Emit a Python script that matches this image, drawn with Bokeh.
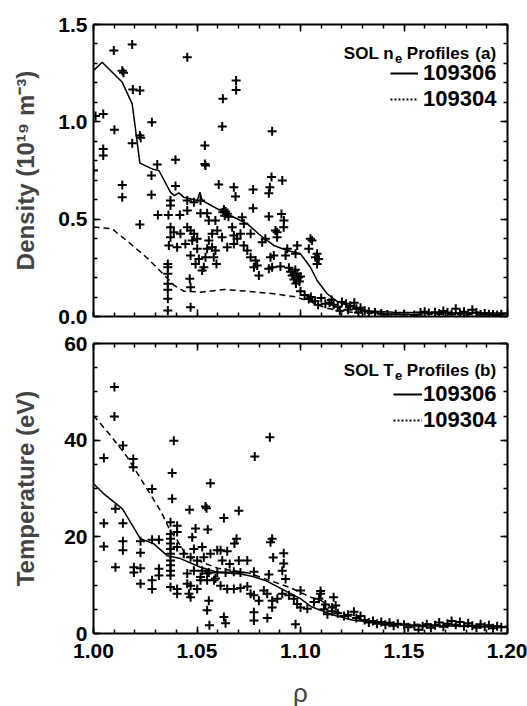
import numpy as np
from bokeh.plotting import figure
from bokeh.models import (FixedTicker, LinearAxis, Range1d, Legend, LegendItem,
                          Label, PrintfTickFormatter)
from bokeh.layouts import column
from bokeh.embed import file_html
from bokeh.resources import INLINE

FONT = "Liberation Sans, Arial, sans-serif"

# ---------------- data: panel (a) density ----------------
ne306_rho = [1.000, 1.0042, 1.0139, 1.0187, 1.0224, 1.0283, 1.0316, 1.0372, 1.0391, 1.0412,
             1.0436, 1.0501, 1.0514, 1.0525, 1.0614, 1.0678, 1.0743, 1.0807, 1.0871, 1.0936,
             1.100, 1.1048, 1.108, 1.1129, 1.118, 1.125, 1.132, 1.145, 1.160, 1.180, 1.200]
ne306_val = [1.263, 1.306, 1.203, 1.092, 0.788, 0.758, 0.750, 0.638, 0.621, 0.635,
             0.613, 0.596, 0.638, 0.596, 0.544, 0.510, 0.476, 0.416, 0.365, 0.339,
             0.322, 0.253, 0.185, 0.117, 0.075, 0.050, 0.030, 0.022, 0.020, 0.018, 0.018]

ne304_rho = [1.000, 1.009, 1.016, 1.026, 1.032, 1.039, 1.0436, 1.052, 1.063, 1.074,
             1.087, 1.098, 1.105, 1.112, 1.120, 1.140, 1.200]
ne304_val = [0.46, 0.45, 0.39, 0.30, 0.236, 0.16, 0.13, 0.125, 0.139, 0.13,
             0.117, 0.10, 0.075, 0.045, 0.025, 0.012, 0.010]

ne_rho = [
    1.0098, 1.0187, 1.0453, 1.0139, 1.0145, 1.0190, 1.0224, 1.0689, 1.0689, 1.0625,
    1.0010, 1.0047, 1.0101, 1.0282, 1.0224, 1.0228, 1.0187, 1.0047, 1.0047, 1.0538,
    1.0538, 1.0541, 1.0396, 1.0308, 1.0280, 1.0000, 1.0139, 1.0139, 1.0280, 1.0396,
    1.0605, 1.0622, 1.0863, 1.0860, 1.0912, 1.0678, 1.0686, 1.0771, 1.0852, 1.0847,
    1.0771, 1.0847, 1.0908, 1.0224,
    1.0311, 1.0362, 1.0417, 1.0372, 1.0372, 1.0453, 1.0485, 1.0517, 1.0453, 1.0517,
    1.0549, 1.0557, 1.0589, 1.0372, 1.0388, 1.0372, 1.0420, 1.0453, 1.0469, 1.0485,
    1.0501, 1.0364, 1.0404, 1.0444, 1.0477, 1.0501, 1.0469, 1.0509, 1.0493, 1.0541,
    1.0533, 1.0573, 1.0557, 1.0573, 1.0598, 1.0549, 1.0589, 1.0359, 1.0359, 1.0359,
    1.0359, 1.0359, 1.0359, 1.0359, 1.0469, 1.0469, 1.0465,
    1.0630, 1.0638, 1.0646, 1.0634, 1.0652, 1.0625, 1.0670, 1.0718, 1.0726, 1.0678,
    1.0621, 1.0646, 1.0694, 1.0710, 1.0759, 1.0743, 1.0581, 1.0594, 1.0525, 1.0678,
    1.0726, 1.0759, 1.0783, 1.0791, 1.0775, 1.0799, 1.0855, 1.0871, 1.0863, 1.0847,
    1.0903, 1.0887, 1.0887, 1.0919, 1.0879, 1.0830, 1.0815, 1.0920, 1.0936, 1.0928,
    1.0984, 1.0976, 1.1048, 1.1056, 1.1040, 1.1080, 1.1072, 1.1088, 1.1080, 1.0944,
    1.0952, 1.0960, 1.0968, 1.0975, 1.0985, 1.0990, 1.0995, 1.0978, 1.1000,
    1.1000, 1.1020, 1.1040, 1.1070, 1.1100, 1.1120, 1.1140, 1.1160, 1.1180, 1.1200,
    1.1220, 1.1240, 1.1260, 1.1270, 1.1290, 1.1310, 1.1330, 1.1360, 1.1390, 1.1420,
    1.1460, 1.1500, 1.1550, 1.1580, 1.1600, 1.1620, 1.1650, 1.1670, 1.1690, 1.1710,
    1.1730, 1.1750, 1.1770, 1.1790, 1.1810, 1.1830, 1.1850, 1.1870, 1.1890, 1.1910,
    1.1930, 1.1950, 1.1970, 1.1050, 1.1085, 1.1150, 1.1190, 1.1230, 1.1280,
]
ne_val = [
    1.366, 1.397, 1.332, 1.263, 1.252, 1.166, 1.161, 1.212, 1.164, 1.118,
    1.030, 1.040, 0.959, 0.998, 0.930, 0.918, 0.890, 0.861, 0.827, 0.878,
    0.784, 0.776, 0.805, 0.781, 0.724, 0.750, 0.676, 0.613, 0.625, 0.670,
    0.678, 0.976, 0.952, 0.716, 0.698, 0.664, 0.616, 0.652, 0.664, 0.633,
    0.556, 0.514, 0.527, 0.473,
    0.522, 0.522, 0.522, 0.596, 0.570, 0.596, 0.587, 0.596, 0.544, 0.530,
    0.530, 0.493, 0.493, 0.459, 0.433, 0.407, 0.425, 0.459, 0.442, 0.425,
    0.399, 0.365, 0.356, 0.373, 0.390, 0.348, 0.313, 0.296, 0.270, 0.305,
    0.253, 0.356, 0.390, 0.425, 0.442, 0.348, 0.339, 0.270, 0.253, 0.219,
    0.168, 0.137, 0.091, 0.031, 0.150, 0.048, 0.194,
    0.550, 0.540, 0.528, 0.518, 0.512, 0.535, 0.459, 0.510, 0.476, 0.416,
    0.407, 0.356, 0.399, 0.425, 0.425, 0.339, 0.305, 0.270, 0.236, 0.373,
    0.365, 0.305, 0.288, 0.262, 0.253, 0.210, 0.305, 0.313, 0.253, 0.245,
    0.257, 0.433, 0.407, 0.459, 0.442, 0.399, 0.382, 0.493, 0.348, 0.313,
    0.365, 0.322, 0.399, 0.390, 0.348, 0.322, 0.305, 0.296, 0.270, 0.250,
    0.230, 0.210, 0.190, 0.240, 0.220, 0.200, 0.180, 0.170, 0.205,
    0.130, 0.110, 0.090, 0.080, 0.095, 0.065, 0.070, 0.060, 0.050, 0.075,
    0.065, 0.055, 0.070, 0.040, 0.045, 0.030, 0.025, 0.020, 0.015, 0.010,
    0.012, 0.010, 0.008, 0.020, 0.025, 0.018, 0.022, 0.015, 0.028, 0.020,
    0.012, 0.040, 0.018, 0.025, 0.015, 0.035, 0.020, 0.010, 0.015, 0.012,
    0.010, 0.008, 0.012, 0.100, 0.060, 0.085, 0.030, 0.035, 0.020,
]

# ---------------- data: panel (b) temperature ----------------
te306_rho = [1.000, 1.005, 1.014, 1.0227, 1.029, 1.0356, 1.042, 1.0517, 1.0598, 1.067,
             1.071, 1.077, 1.084, 1.0936, 1.100, 1.105, 1.1145, 1.125, 1.140, 1.160,
             1.180, 1.200]
te306_val = [31.0, 28.9, 25.8, 19.6, 18.6, 16.1, 15.5, 13.7, 12.7, 12.4,
             12.3, 11.8, 10.8, 8.6, 7.2, 5.6, 4.0, 2.8, 2.0, 1.6,
             1.5, 1.4]

te304_rho = [1.000, 1.0082, 1.0163, 1.0243, 1.0324, 1.037, 1.040, 1.045, 1.060, 1.075,
             1.085, 1.095, 1.105, 1.110, 1.119, 1.130, 1.145, 1.200]
te304_val = [45.1, 41.0, 36.5, 31.0, 25.4, 21.3, 19.6, 16.0, 13.5, 12.5,
             11.0, 9.5, 7.5, 6.8, 4.3, 2.8, 2.0, 1.5]

te_rho = [
    1.0101, 1.0101, 1.0388, 1.0852, 1.0779, 1.0142, 1.0050, 1.0192, 1.0192, 1.0565,
    1.0380, 1.0283, 1.0380, 1.0541, 1.0546, 1.0464, 1.0552, 1.0106, 1.0050, 1.0142,
    1.0050, 1.0142, 1.0142, 1.0227, 1.0227, 1.0283, 1.0316, 1.0106, 1.0195, 1.0195,
    1.0227, 1.0227, 1.0283, 1.0283, 1.0316, 1.0316, 1.0630, 1.0702, 1.0691, 1.0681,
    1.0863, 1.0855,
    1.0372, 1.0372, 1.0372, 1.0372, 1.0372, 1.0372, 1.0372, 1.0372, 1.0372, 1.0372,
    1.0404, 1.0404, 1.0404, 1.0372, 1.0404, 1.0404, 1.0453, 1.0485, 1.0517, 1.0436,
    1.0469, 1.0501, 1.0533, 1.0485, 1.0525, 1.0565, 1.0549, 1.0469, 1.0501, 1.0453,
    1.0589, 1.0598, 1.0493, 1.0477, 1.0461, 1.0469, 1.0549, 1.0557, 1.0560,
    1.0614, 1.0646, 1.0622, 1.0658, 1.0702, 1.0743, 1.0919, 1.0919, 1.0912, 1.0928,
    1.0868, 1.0525, 1.0557, 1.0598, 1.0638, 1.0678, 1.0710, 1.0775, 1.0847, 1.0517,
    1.0549, 1.0582, 1.0614, 1.0646, 1.0678, 1.0710, 1.0743, 1.0759, 1.0775, 1.0799,
    1.0823, 1.0839, 1.0863, 1.0863, 1.0888, 1.0912, 1.0944, 1.0968, 1.0984, 1.1000,
    1.1033, 1.1065, 1.1089, 1.1097, 1.1000, 1.1160, 1.0630, 1.0638, 1.0775, 1.0775,
    1.0840, 1.0976,
    1.1097, 1.1153, 1.1153, 1.1258, 1.1113, 1.1130, 1.1180, 1.1210, 1.1230, 1.1270,
    1.1290, 1.1120, 1.1170, 1.1310, 1.1330, 1.1350, 1.1370, 1.1390, 1.1410, 1.1430,
    1.1450, 1.1470, 1.1500, 1.1520, 1.1550, 1.1570, 1.1590, 1.1610, 1.1630, 1.1650,
    1.1670, 1.1690, 1.1710, 1.1730, 1.1750, 1.1770, 1.1790, 1.1810, 1.1830, 1.1850,
    1.1870, 1.1890, 1.1910, 1.1930, 1.1950, 1.1970,
]
te_val = [
    51.0, 44.9, 39.9, 40.6, 36.6, 38.9, 36.3, 36.1, 34.4, 31.1,
    33.2, 29.9, 27.9, 26.3, 25.9, 25.6, 21.5, 25.8, 22.8, 22.8,
    18.0, 19.1, 17.2, 19.1, 16.7, 19.4, 19.4, 13.7, 13.7, 12.6,
    13.5, 10.3, 11.0, 9.2, 13.4, 12.0, 23.9, 25.4, 19.6, 18.6,
    19.6, 18.9,
    23.0, 20.6, 19.6, 18.6, 17.5, 16.5, 15.1, 14.1, 13.0, 12.0,
    22.3, 21.0, 17.9, 9.6, 9.2, 8.2, 12.4, 13.0, 11.0, 16.5,
    15.8, 15.1, 15.8, 17.5, 17.9, 16.5, 12.4, 9.9, 9.2, 10.3,
    11.4, 17.2, 21.7, 19.9, 8.2, 7.5, 4.8, 6.8, 1.7,
    17.2, 17.0, 15.1, 14.4, 15.1, 15.1, 16.6, 14.5, 13.0, 11.3,
    15.7, 13.0, 12.6, 12.6, 12.6, 12.8, 12.6, 12.8, 12.2, 11.7,
    11.0, 11.0, 9.9, 9.2, 9.2, 9.4, 9.7, 8.2, 7.9, 6.8,
    8.9, 8.2, 6.8, 5.4, 7.2, 8.2, 7.9, 7.2, 6.1, 5.4,
    5.1, 6.5, 7.2, 8.2, 8.9, 7.5, 3.4, 2.1, 4.4, 2.7,
    3.2, 1.9,
    8.8, 5.4, 4.6, 4.5, 5.0, 4.0, 4.2, 3.6, 3.9, 3.2,
    3.6, 6.0, 5.8, 2.8, 2.3, 2.6, 2.0, 2.4, 1.8, 2.2,
    1.6, 2.0, 1.8, 1.3, 1.6, 0.8, 1.5, 1.9, 1.2, 1.7,
    2.3, 1.4, 2.0, 2.6, 1.8, 2.4, 1.5, 2.1, 1.6, 1.2,
    1.9, 1.4, 1.7, 1.1, 1.5, 1.3,
]

# ---------------- ticks ----------------
x_major = [1.00, 1.05, 1.10, 1.15, 1.20]
x_minor = [round(1.0 + 0.01 * i, 2) for i in range(21)]
ne_major = [0.0, 0.5, 1.0, 1.5]
ne_minor = [round(0.1 * i, 1) for i in range(16)]
te_major = [0, 20, 40, 60]
te_minor = [5 * i for i in range(13)]

shots = ["109306", "109304"]


def make_panel(yr, ymaj, ymin, yfmt, ylabel, fh, top_b, bot_b, show_x, ylab_standoff):
    p = figure(x_range=Range1d(1.0, 1.2), y_range=Range1d(*yr),
               frame_width=414, frame_height=fh,
               min_border_left=93, min_border_right=20,
               min_border_top=top_b, min_border_bottom=bot_b,
               output_backend="svg", toolbar_location=None)
    p.grid.visible = False
    p.outline_line_color = None
    p.background_fill_color = "white"
    p.border_fill_color = "white"
    top = LinearAxis()
    right = LinearAxis()
    p.add_layout(top, "above")
    p.add_layout(right, "right")
    xt = FixedTicker(ticks=x_major, minor_ticks=x_minor)
    yt = FixedTicker(ticks=ymaj, minor_ticks=ymin)
    bottom = p.below[0]
    left = p.left[0]
    bottom.ticker = xt
    top.ticker = xt
    left.ticker = yt
    right.ticker = yt
    for ax in (bottom, top, left, right):
        ax.axis_line_width = 2
        ax.axis_line_color = "black"
        ax.major_tick_in = 7
        ax.major_tick_out = 0
        ax.minor_tick_in = 4
        ax.minor_tick_out = 0
        ax.major_tick_line_width = 1.5
        ax.minor_tick_line_width = 1.5
        ax.major_label_text_font = FONT
        ax.major_label_text_font_style = "bold"
        ax.major_label_text_font_size = "21px"
        ax.major_label_text_color = "black"
    hidden = [top, right] + ([] if show_x else [bottom])
    for ax in hidden:
        ax.major_label_text_font_size = "1px"
        ax.major_label_text_color = None
        ax.major_label_standoff = 0
    bottom.formatter = PrintfTickFormatter(format="%.2f")
    left.formatter = PrintfTickFormatter(format=yfmt)
    left.major_label_standoff = 6
    if show_x:
        bottom.major_label_standoff = 10
        bottom.axis_label = "\u03c1"
        bottom.axis_label_text_font = FONT
        bottom.axis_label_text_font_style = "normal"
        bottom.axis_label_text_font_size = "26px"
        bottom.axis_label_standoff = 17
    left.axis_label = ylabel
    left.axis_label_text_font = FONT
    left.axis_label_text_font_style = "bold"
    left.axis_label_text_font_size = "24px"
    left.axis_label_standoff = ylab_standoff
    return p


def add_title(p, main, tag, xr, yb, ysub, font_px):
    # pieces anchored from the right edge (Liberation Sans Bold advance widths)
    sub_px = int(round(font_px * 0.75))
    w_tag = 1.222 * font_px
    w_prof = 3.668 * font_px
    w_sub = 0.556 * sub_px
    gap = 0.278 * font_px
    scale = 0.2 / 414.0
    x_tag = xr
    x_prof = xr - (w_tag + 1.3 * gap) * scale
    x_sub = x_prof - (w_prof + gap) * scale
    x_main = x_sub - (w_sub + 1) * scale
    common = dict(text_font=FONT, text_font_style="bold", text_color="black",
                  text_align="right", text_baseline="alphabetic")
    p.add_layout(Label(x=x_main, y=yb, text=main, text_font_size=f"{font_px}px", **common))
    p.add_layout(Label(x=x_sub, y=ysub, text="e", text_font_size=f"{sub_px}px", **common))
    p.add_layout(Label(x=x_prof, y=yb, text="Profiles", text_font_size=f"{font_px}px", **common))
    p.add_layout(Label(x=x_tag, y=yb, text=tag, text_font_size=f"{font_px}px", **common))


def add_legend(p, vx, vy, spacing, standoff, gw):
    nan = [float("nan")]
    sol_r = p.line(x=nan, y=nan, line_color="black", line_width=2)
    dot_r = p.line(x=nan, y=nan, line_color="black", line_width=2, line_dash="2 2")
    leg = Legend(items=[LegendItem(label=shots[0], renderers=[sol_r]),
                        LegendItem(label=shots[1], renderers=[dot_r])],
                 location=(vx, vy), orientation="vertical",
                 border_line_color=None, background_fill_alpha=0,
                 glyph_width=gw, glyph_height=16, label_height=16,
                 label_standoff=standoff, spacing=spacing, padding=0, margin=0,
                 label_text_font=FONT, label_text_font_size="22px",
                 label_text_font_style="bold", label_text_color="black")
    p.add_layout(leg)


# ---------------- panel (a) ----------------
p1 = make_panel((0, 1.5), ne_major, ne_minor, "%.1f",
                "Density (10\u00b9\u2079 m\u207b\u00b3)", 292, 24, 13, False, 16)
p1.scatter(ne_rho, ne_val, marker="cross", size=9, line_width=2, color="black")
p1.line(ne306_rho, ne306_val, line_color="black", line_width=1.5)
p1.line(ne304_rho, ne304_val, line_color="black", line_width=1.5, line_dash="6 4")
add_title(p1, "SOL n", "(a)", 1.1945, 1.35, 1.323, 17)
add_legend(p1, 297, 204, -10, 5, 28)

# ---------------- panel (b) ----------------
p2 = make_panel((0, 60), te_major, te_minor, "%d",
                "Temperature (eV)", 290, 14, 73, True, 22)
p2.scatter(te_rho, te_val, marker="cross", size=9, line_width=2, color="black")
p2.line(te306_rho, te306_val, line_color="black", line_width=1.5)
p2.line(te304_rho, te304_val, line_color="black", line_width=1.5, line_dash="6 4")
add_title(p2, "SOL T", "(b)", 1.1945, 54.4, 53.3, 17)
add_legend(p2, 300, 200, -7, 1, 29)

layout = column(p1, p2, spacing=0)
open("out.html", "w").write(file_html(layout, INLINE))
